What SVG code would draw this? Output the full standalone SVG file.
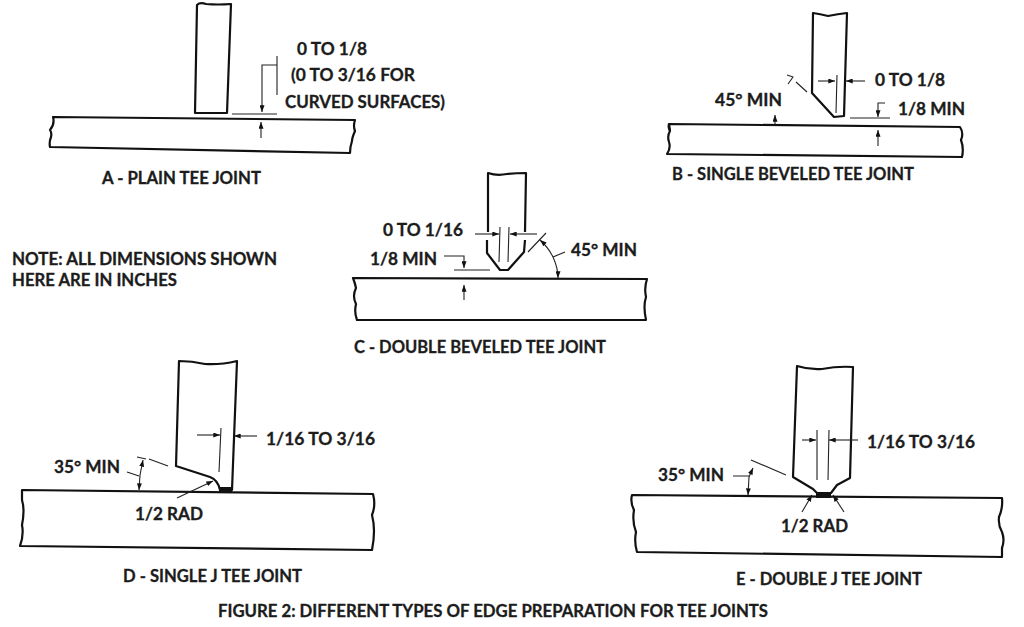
<svg xmlns="http://www.w3.org/2000/svg" width="1024" height="627" viewBox="0 0 1024 627">
<style>
text{font-family:"Lato","Open Sans","Liberation Sans",sans-serif;font-weight:700;font-size:16.5px;fill:#1c1c1c;stroke:#1c1c1c;stroke-width:.3;lengthAdjust:spacingAndGlyphs}
.o{fill:none;stroke:#111;stroke-width:2.2;stroke-linejoin:round}
.t{fill:none;stroke:#222;stroke-width:1.1}
</style>
<defs>
<marker id="a" viewBox="0 0 8 6" refX="8" refY="3" markerWidth="7" markerHeight="5" orient="auto" markerUnits="userSpaceOnUse"><path d="M0 0L8 3L0 6z" fill="#111"/></marker>
</defs>
<rect width="1024" height="627" fill="#fff"/>
<g id="joint-a">
<path class="o" d="M197 5Q200 2 206 4Q218 5 231 4L227 113L195 113Z"/>
<path class="o" d="M53 117L355 120Q353 126 355 131Q352 138 352 141Q350 147 350 153L50 147Q49 142 51 137Q52 133 50 130Q55 124 53 117Z"/>
<text x="102" y="184" textLength="159" lengthAdjust="spacingAndGlyphs">A - PLAIN TEE JOINT</text>
<text x="297" y="55" textLength="70" lengthAdjust="spacingAndGlyphs">0 TO 1/8</text>
<text x="291" y="81" textLength="124" lengthAdjust="spacingAndGlyphs">(0 TO 3/16 FOR</text>
<text x="285" y="108" textLength="160" lengthAdjust="spacingAndGlyphs">CURVED SURFACES)</text>
</g>
<g id="joint-b">
<path class="o" d="M813 13Q820 14 828 16Q838 14 847 13L844 116L834 117L812 93Z"/>
<path class="o" d="M669 124L960 127Q964 133 961 140Q964 148 962 157L667 154Q671 148 669 142Q667 136 670 131Z"/>
<path class="o" d="M670 131Q668 127 669 124"/>
<text x="672" y="180" textLength="242" lengthAdjust="spacingAndGlyphs">B - SINGLE BEVELED TEE JOINT</text>
<text x="875" y="86" textLength="70" lengthAdjust="spacingAndGlyphs">0 TO 1/8</text>
<text x="898" y="115" textLength="67" lengthAdjust="spacingAndGlyphs">1/8 MIN</text>
<text x="715" y="106" textLength="67" lengthAdjust="spacingAndGlyphs">45° MIN</text>
</g>
<g id="joint-c">
<path class="o" d="M488 232L488 173Q497 176 507 174Q516 173 526 173L525 232M525 240L524 252L508 270L500 270L487 253L487 240"/>
<path class="o" d="M353 278L647 279Q644 288 646 297Q643 306 646 320L357 320Q354 312 356 304Q352 296 356 288Q355 283 353 278Z"/>
<text x="354" y="353" textLength="252" lengthAdjust="spacingAndGlyphs">C - DOUBLE BEVELED TEE JOINT</text>
<text x="383" y="236" textLength="80" lengthAdjust="spacingAndGlyphs">0 TO 1/16</text>
<text x="370" y="265" textLength="67" lengthAdjust="spacingAndGlyphs">1/8 MIN</text>
<text x="571" y="256" textLength="66" lengthAdjust="spacingAndGlyphs">45° MIN</text>
</g>
<g id="joint-d">
<path class="o" d="M179 361Q192 361 205 364Q220 365 237 361L232 490L220 490Q218 480 210 477L176 466Z"/>
<path class="o" d="M22 490L373 494Q376 505 372 515Q376 530 372 550L20 546Q24 535 22 525Q25 510 22 500Z"/>
<path d="M219 487H232V492H219Z" fill="#111"/>
<text x="123" y="582" textLength="179" lengthAdjust="spacingAndGlyphs">D - SINGLE J TEE JOINT</text>
<text x="266" y="445" textLength="109" lengthAdjust="spacingAndGlyphs">1/16 TO 3/16</text>
<text x="54" y="473" textLength="66" lengthAdjust="spacingAndGlyphs">35° MIN</text>
<text x="135" y="520" textLength="68" lengthAdjust="spacingAndGlyphs">1/2 RAD</text>
</g>
<g id="joint-e">
<path class="o" d="M797 366Q810 370 822 369Q838 366 853 367L850 478L837 485L831 493L817 493L813 489L793 477Z"/>
<path class="o" d="M632 495L1002 498Q1003 508 999 517Q998 525 1002 532Q1005 540 1002 548L1002 557L637 552Q634 542 636 532Q632 522 634 510Q630 502 632 495Z"/>
<path d="M816 493H831V498H816Z" fill="#111"/>
<text x="736" y="585" textLength="186" lengthAdjust="spacingAndGlyphs">E - DOUBLE J TEE JOINT</text>
<text x="867" y="448" textLength="108" lengthAdjust="spacingAndGlyphs">1/16 TO 3/16</text>
<text x="658" y="481" textLength="66" lengthAdjust="spacingAndGlyphs">35° MIN</text>
<text x="781" y="532" textLength="67" lengthAdjust="spacingAndGlyphs">1/2 RAD</text>
</g>
<g id="note">
<text x="12" y="265" textLength="265" lengthAdjust="spacingAndGlyphs">NOTE: ALL DIMENSIONS SHOWN</text>
<text x="12" y="286" textLength="165" lengthAdjust="spacingAndGlyphs">HERE ARE IN INCHES</text>
</g>
<g id="caption">
<text x="218" y="617" textLength="550" lengthAdjust="spacingAndGlyphs">FIGURE 2: DIFFERENT TYPES OF EDGE PREPARATION FOR TEE JOINTS</text>
</g>
<g id="connectors">
<path class="t" d="M232 114H277M277 56V95M277 65H262V112" marker-end="url(#a)"/>
<path class="t" d="M261 138V122" marker-end="url(#a)"/>
<path class="t" d="M837 75L836 113M850 118H890"/>
<path class="t" d="M818 81H835" marker-end="url(#a)"/>
<path class="t" d="M865 81H846" marker-end="url(#a)"/>
<path class="t" d="M885 103H878V117" marker-end="url(#a)"/>
<path class="t" d="M878 146V130" marker-end="url(#a)"/>
<path class="t" d="M775 124V115" marker-end="url(#a)"/>
<path class="t" d="M787 75L793 77L788 84M796 82L807 92"/>
<path class="t" d="M500 227L499 262M509 227L508 262M454 270H490"/>
<path class="t" d="M475 234H499" marker-end="url(#a)"/>
<path class="t" d="M537 234H510" marker-end="url(#a)"/>
<path class="t" d="M444 256H464V268" marker-end="url(#a)"/>
<path class="t" d="M464 300V285" marker-end="url(#a)"/>
<path class="t" d="M528 252L546 233"/>
<path class="t" d="M553 257Q558 268 558 278" marker-end="url(#a)"/>
<path class="t" d="M553 257Q548 247 540 240" marker-end="url(#a)"/>
<path class="t" d="M553 257L565 252"/>
<path class="t" d="M221 428L219 472"/>
<path class="t" d="M197 435H220" marker-end="url(#a)"/>
<path class="t" d="M257 436H234" marker-end="url(#a)"/>
<path class="t" d="M177 498L213 481" marker-end="url(#a)"/>
<path class="t" d="M137 457L146 459M149 459L168 466M127 472L139 476"/>
<path class="t" d="M140 475L143 460" marker-end="url(#a)"/>
<path class="t" d="M140 475L139 490" marker-end="url(#a)"/>
<path class="t" d="M817 430V480M829 430L828 480"/>
<path class="t" d="M802 440H816" marker-end="url(#a)"/>
<path class="t" d="M858 440H829" marker-end="url(#a)"/>
<path class="t" d="M751 460L786 475M733 476H749"/>
<path class="t" d="M749 477L753 468" marker-end="url(#a)"/>
<path class="t" d="M749 477L748 495" marker-end="url(#a)"/>
<path class="t" d="M802 512L812 495" marker-end="url(#a)"/>
<path class="t" d="M844 512L833 495" marker-end="url(#a)"/>
</g>
</svg>
